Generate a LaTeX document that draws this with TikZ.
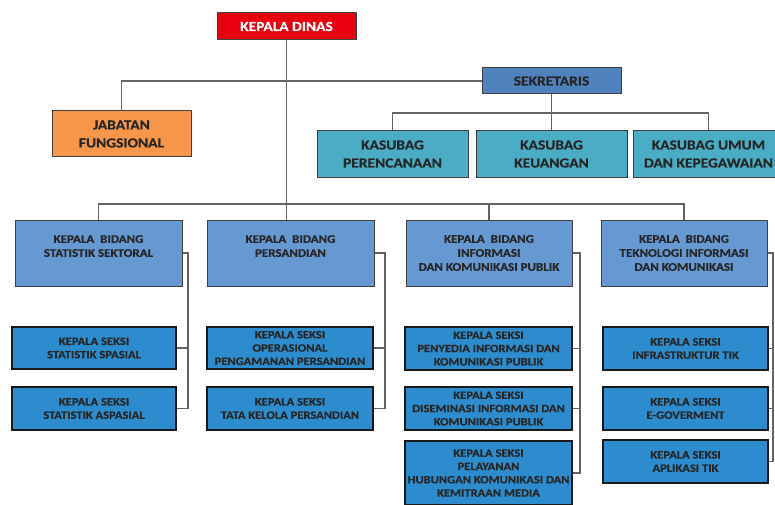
\documentclass[tikz,border=0pt]{standalone}
\usepackage{fontspec}
\setmainfont{Carlito}[BoldFont={Carlito Bold}, BoldFeatures={FakeStretch=1.12, FakeBold=0.5}]
\definecolor{cred}{RGB}{232,0,14}
\definecolor{corange}{RGB}{245,150,75}
\definecolor{csek}{RGB}{79,129,189}
\definecolor{ckas}{RGB}{75,172,198}
\definecolor{cbid}{RGB}{102,152,210}
\definecolor{csek2}{RGB}{45,140,205}
\definecolor{cline}{RGB}{100,100,100}
\tikzset{
  box/.style={rectangle, draw=black!75, line width=1pt, inner sep=0pt, align=center, font=\fontsize{13.8}{18}\selectfont\bfseries, text=black!85},
  topbox/.style={box, fill=cred, text=white},
  jfbox/.style={box, fill=corange},
  sekbox/.style={box, fill=csek},
  kasbox/.style={box, fill=ckas},
  bidbox/.style={box, fill=cbid, font=\fontsize{11.6}{14}\selectfont\bfseries},
  seksibox/.style={box, fill=csek2, draw=black!90, line width=1.4pt, font=\fontsize{11.2}{13.3}\selectfont\bfseries},
  conn/.style={draw=cline, line width=1.1pt},
}
\begin{document}
\begin{tikzpicture}[x=1pt,y=-1pt]
\useasboundingbox (0,0) rectangle (775,505);
\fill[white] (0,0) rectangle (775,505);
\clip (0,0) rectangle (775,505);
% top
\node[topbox, minimum width=139pt, minimum height=27pt] (kd) at (286.5,26.5) {KEPALA DINAS};
\node[jfbox, minimum width=139pt, minimum height=46pt] (jf) at (121.5,134) {JABATAN\\FUNGSIONAL};
\node[sekbox, minimum width=139pt, minimum height=26pt] (sek) at (551.5,81) {SEKRETARIS};
\node[kasbox, minimum width=151pt, minimum height=46pt] (kp) at (392.5,154) {KASUBAG\\PERENCANAAN};
\node[kasbox, minimum width=151pt, minimum height=46pt] (kk) at (551.5,154) {KASUBAG\\KEUANGAN};
\node[kasbox, minimum width=151pt, minimum height=46pt] (ku) at (708.5,154) {KASUBAG UMUM\\DAN KEPEGAWAIAN};
% bidang
\node[bidbox, minimum width=167pt, minimum height=66pt] (b1) at (98.5,253) {KEPALA\ \ BIDANG\\STATISTIK SEKTORAL\\\mbox{}};
\node[bidbox, minimum width=167pt, minimum height=66pt] (b2) at (290.5,253) {KEPALA\ \ BIDANG\\PERSANDIAN\\\mbox{}};
\node[bidbox, minimum width=166pt, minimum height=66pt] (b3) at (489,253) {KEPALA\ \ BIDANG\\INFORMASI\\DAN KOMUNIKASI PUBLIK};
\node[bidbox, minimum width=166pt, minimum height=66pt] (b4) at (684,253) {KEPALA\ \ BIDANG\\TEKNOLOGI INFORMASI\\DAN KOMUNIKASI};
% seksi
\node[seksibox, minimum width=164pt, minimum height=42pt] (s11) at (94,348) {KEPALA SEKSI\\STATISTIK SPASIAL};
\node[seksibox, minimum width=164pt, minimum height=43pt] (s12) at (94,408.5) {KEPALA SEKSI\\STATISTIK ASPASIAL};
\node[seksibox, minimum width=166pt, minimum height=42pt] (s21) at (290,348) {KEPALA SEKSI\\OPERASIONAL\\PENGAMANAN PERSANDIAN};
\node[seksibox, minimum width=166pt, minimum height=43pt] (s22) at (290,408.5) {KEPALA SEKSI\\TATA KELOLA PERSANDIAN};
\node[seksibox, minimum width=167pt, minimum height=43pt] (s31) at (488.5,348.5) {KEPALA SEKSI\\PENYEDIA INFORMASI DAN\\KOMUNIKASI PUBLIK};
\node[seksibox, minimum width=167pt, minimum height=43pt] (s32) at (488.5,408.5) {KEPALA SEKSI\\DISEMINASI INFORMASI DAN\\KOMUNIKASI PUBLIK};
\node[seksibox, minimum width=167pt, minimum height=64pt] (s33) at (488.5,473) {KEPALA SEKSI\\PELAYANAN\\HUBUNGAN KOMUNIKASI DAN\\KEMITRAAN MEDIA};
\node[seksibox, minimum width=165pt, minimum height=43pt] (s41) at (685.5,348.5) {KEPALA SEKSI\\INFRASTRUKTUR TIK};
\node[seksibox, minimum width=165pt, minimum height=43pt] (s42) at (685.5,408.5) {KEPALA SEKSI\\E-GOVERMENT};
\node[seksibox, minimum width=165pt, minimum height=43pt] (s43) at (685.5,461.5) {KEPALA SEKSI\\APLIKASI TIK};
% bus coordinates
\coordinate (bus) at (0,204);
\coordinate (kbus) at (0,113);
\coordinate (v1) at (188,0);
\coordinate (v2) at (385,0);
\coordinate (v3) at (580,0);
\coordinate (v4) at (773,0);
% connectors
\draw[conn] (kd.south) -- (kd.south |- b2.north);
\draw[conn] (jf.north) |- (sek.west);
\draw[conn] (sek.south) -- (sek.south |- kbus);
\draw[conn] (kp.north) |- (kbus -| ku.north) -- (ku.north);
\draw[conn] (kk.north) -- (kk.north |- kbus);
\draw[conn] (b1.north) |- (bus -| b4.north) -- (b4.north);
\draw[conn] (b3.north) -- (b3.north |- bus);
\draw[conn] (b1.east) -- (b1.east -| v1) |- (s12.east);
\draw[conn] (s11.east) -- (s11.east -| v1);
\draw[conn] (b2.east) -- (b2.east -| v2) |- (s22.east);
\draw[conn] (s21.east) -- (s21.east -| v2);
\draw[conn] (b3.east) -- (b3.east -| v3) |- (s33.east);
\draw[conn] (s31.east) -- (s31.east -| v3);
\draw[conn] (s32.east) -- (s32.east -| v3);
\draw[conn] (b4.east) -- (b4.east -| v4) |- (s43.east);
\draw[conn] (s41.east) -- (s41.east -| v4);
\draw[conn] (s42.east) -- (s42.east -| v4);
\end{tikzpicture}
\end{document}
